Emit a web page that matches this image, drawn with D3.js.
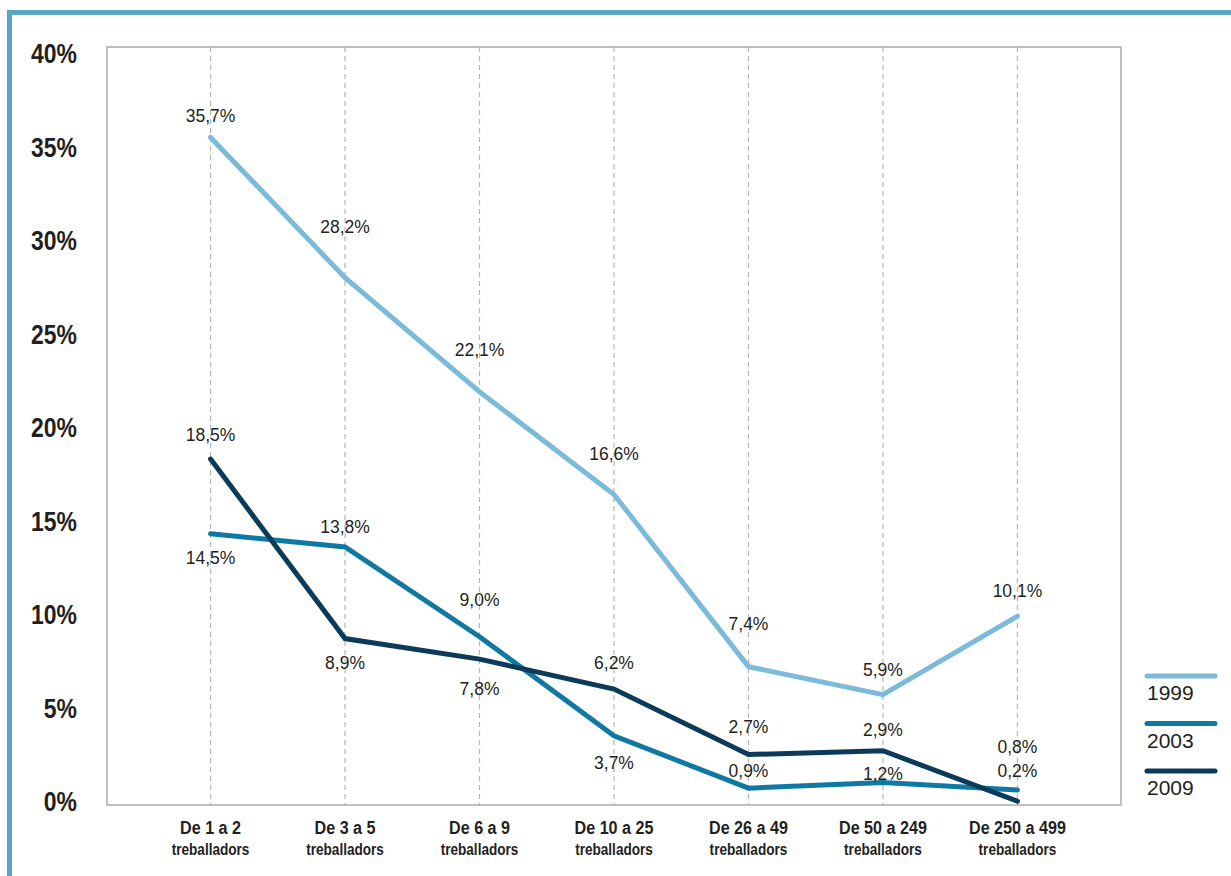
<!DOCTYPE html>
<html>
<head>
<meta charset="utf-8">
<script src="https://cdn.jsdelivr.net/npm/d3@7"></script>
<style>
  body { margin: 0; background: #fff; }
  svg { display: block; }
</style>
</head>
<body>
<script>
// categories (two-line labels)
var categories = ["De 1 a 2", "De 3 a 5", "De 6 a 9", "De 10 a 25", "De 26 a 49", "De 50 a 249", "De 250 a 499"];
var subLabel = "treballadors";
var years = ["1999", "2003", "2009"];

// values in %
var values1999 = [35.7, 28.2, 22.1, 16.6, 7.4, 5.9, 10.1];
var values2003 = [14.5, 13.8, 9.0, 3.7, 0.9, 1.2, 0.8];
var values2009 = [18.5, 8.9, 7.8, 6.2, 2.7, 2.9, 0.2];

var yTicks = [0, 5, 10, 15, 20, 25, 30, 35, 40];

// label offsets from the point (px), layout only
var labelDy = {
  "1999": [-22, -51, -42, -41, -43, -25, -25],
  "2003": [24, -20, -37, 27, -17, -9, -43],
  "2009": [-24, 24, 30, -26, -28, -21, -30]
};

var colors = {"1999": "#7bbad9", "2003": "#0f79a3", "2009": "#0b3b58"};

var series = [
  {year: "1999", values: values1999},
  {year: "2003", values: values2003},
  {year: "2009", values: values2009}
];

var W = 1231, H = 876;
var plot = {left: 107, right: 1121, top: 47, bottom: 805};
var condensed = "scale(0.85,1)"; // no narrow font installed, squeeze bold labels

var svg = d3.select("body").append("svg")
  .attr("width", W)
  .attr("height", H);

// frame border (left & top band)
svg.append("rect").attr("x", 7).attr("y", 10).attr("width", W - 7).attr("height", 5).attr("fill", "#58a6c6");
svg.append("rect").attr("x", 7).attr("y", 10).attr("width", 5).attr("height", H - 10).attr("fill", "#58a6c6");

var x = d3.scalePoint()
  .domain(categories)
  .range([plot.left, plot.right])
  .padding(0.77);

var y = d3.scaleLinear()
  .domain([0, 40])
  .range([805, 57]);

// dashed vertical guides
svg.append("g")
  .selectAll("line")
  .data(categories)
  .join("line")
  .attr("x1", d => x(d))
  .attr("x2", d => x(d))
  .attr("y1", plot.top)
  .attr("y2", plot.bottom)
  .attr("stroke", "#b5b5b5")
  .attr("stroke-width", 1.2)
  .attr("stroke-dasharray", "5,4");

// plot frame
svg.append("rect")
  .attr("x", plot.left)
  .attr("y", plot.top)
  .attr("width", plot.right - plot.left)
  .attr("height", plot.bottom - plot.top)
  .attr("fill", "none")
  .attr("stroke", "#ababab")
  .attr("stroke-width", 1.5);

// y axis labels
svg.append("g")
  .selectAll("text")
  .data(yTicks)
  .join("text")
  .attr("transform", d => "translate(77," + (y(d) - 3) + ") " + condensed)
  .attr("dy", "0.35em")
  .attr("text-anchor", "end")
  .attr("font-family", "'Liberation Sans', Arial, sans-serif")
  .attr("font-weight", "bold")
  .attr("font-size", "27px")
  .attr("fill", "#231f20")
  .text(d => d + "%");

// x axis labels
var xl = svg.append("g")
  .selectAll("g")
  .data(categories)
  .join("g")
  .attr("transform", d => "translate(" + x(d) + ",0) " + condensed);

xl.append("text")
  .attr("y", 827)
  .attr("dy", "0.35em")
  .attr("text-anchor", "middle")
  .attr("font-family", "'Liberation Sans', Arial, sans-serif")
  .attr("font-weight", "bold")
  .attr("font-size", "19px")
  .attr("fill", "#231f20")
  .text(d => d);

xl.append("text")
  .attr("y", 849)
  .attr("dy", "0.35em")
  .attr("text-anchor", "middle")
  .attr("font-family", "'Liberation Sans', Arial, sans-serif")
  .attr("font-weight", "bold")
  .attr("font-size", "16px")
  .attr("fill", "#231f20")
  .text(subLabel);

// lines
var line = d3.line()
  .x((d, i) => x(categories[i]))
  .y(d => y(d));

svg.append("g")
  .selectAll("path")
  .data(series)
  .join("path")
  .attr("d", d => line(d.values))
  .attr("fill", "none")
  .attr("stroke", d => colors[d.year])
  .attr("stroke-width", 5)
  .attr("stroke-linejoin", "miter")
  .attr("stroke-linecap", "round");

// value labels
series.forEach(function(s) {
  svg.append("g")
    .selectAll("text")
    .data(s.values)
    .join("text")
    .attr("x", (d, i) => x(categories[i]))
    .attr("y", (d, i) => y(d) + labelDy[s.year][i])
    .attr("dy", "0.35em")
    .attr("text-anchor", "middle")
    .attr("font-family", "'Liberation Sans', Arial, sans-serif")
    .attr("font-size", "17.5px")
    .attr("fill", "#231f20")
    .text(d => d3.format(".1f")(d).replace(".", ",") + "%");
});

// legend
var leg = svg.append("g")
  .selectAll("g")
  .data(years)
  .join("g")
  .attr("transform", (d, i) => "translate(1147," + (676 + i * 47.5) + ")");

leg.append("line")
  .attr("x1", 0)
  .attr("x2", 68)
  .attr("stroke", d => colors[d])
  .attr("stroke-width", 5)
  .attr("stroke-linecap", "round");

leg.append("text")
  .attr("x", 0)
  .attr("y", 17)
  .attr("dy", "0.35em")
  .attr("font-family", "'Liberation Sans', Arial, sans-serif")
  .attr("font-size", "21px")
  .attr("fill", "#231f20")
  .text(d => d);
</script>
</body>
</html>
